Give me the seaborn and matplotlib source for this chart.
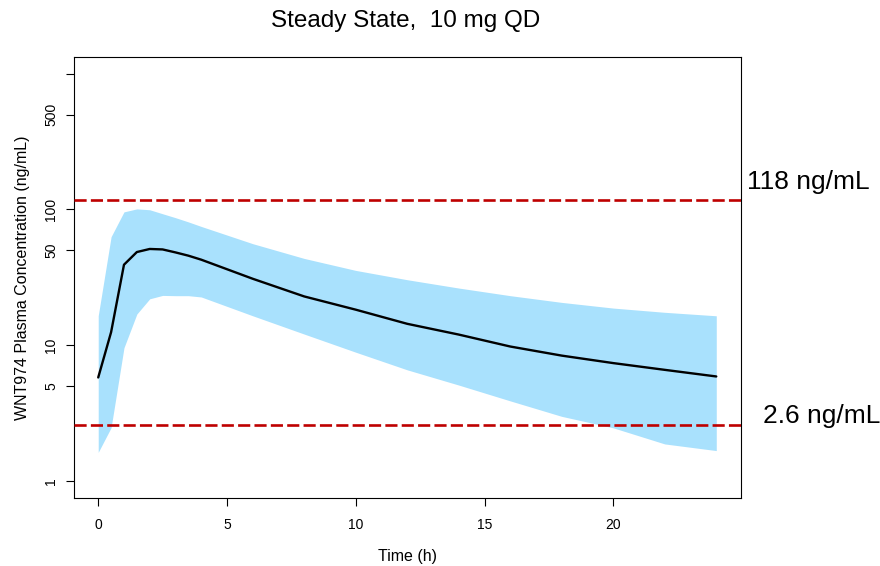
import matplotlib
matplotlib.use("Agg")
import matplotlib.pyplot as plt
import seaborn as sns
import pandas as pd

# ---- data ----
time_h = [0, 0.5, 1, 1.5, 2, 2.5, 3, 3.5, 4, 6, 8, 10, 12, 14, 16, 18, 20, 22, 24]
median_conc = [5.8, 12.5, 39.2, 48.6, 51.2, 50.8, 48.3, 45.7, 42.7, 30.9, 22.9, 18.3,
               14.4, 12.0, 9.8, 8.4, 7.4, 6.6, 5.9]
upper_conc = [16.5, 63, 96, 101, 99.5, 93, 87, 81, 75, 56, 43.6, 35.6, 30.4, 26.4,
              23.2, 20.7, 18.8, 17.5, 16.5]
lower_conc = [1.63, 2.48, 9.6, 17.0, 22.0, 23.3, 23.2, 23.2, 22.7, 16.5, 12.1, 8.9,
              6.6, 5.1, 3.9, 3.0, 2.47, 1.88, 1.68]
ref_levels = [118, 2.6]
ref_labels = ["118 ng/mL", "2.6 ng/mL"]
x_ticks = [0, 5, 10, 15, 20]
y_ticks = [1, 5, 10, 50, 100, 500, 1000]
y_tick_labels = ["1", "5", "10", "50", "100", "500", ""]

df = pd.DataFrame({"time": time_h, "median": median_conc,
                   "lower": lower_conc, "upper": upper_conc})

sns.set_theme(style="ticks")
plt.rcParams["font.family"] = ["Liberation Sans", "DejaVu Sans"]

fig = plt.figure(figsize=(8.8, 5.66), dpi=100)
ax = fig.add_axes([73.5 / 880, 1 - 497.5 / 566, (741 - 73.5) / 880, (497.5 - 57.3) / 566])

ax.fill_between(df["time"], df["lower"], df["upper"], color="#A9E1FD", linewidth=0, zorder=1)
sns.lineplot(data=df, x="time", y="median", ax=ax, color="black", linewidth=1.7, zorder=3)

for lvl in ref_levels:
    ax.axhline(lvl, color="#BE0000", linewidth=1.9, dashes=(4.6, 1.6), zorder=4)

ax.set_yscale("log")
ax.set_xlim(-0.96, 24.96)
ax.set_ylim(10 ** -0.12, 10 ** 3.12)

ax.set_xticks(x_ticks)
ax.set_xticklabels([str(t) for t in x_ticks])
ax.set_yticks(y_ticks)
ax.set_yticklabels(y_tick_labels)
ax.yaxis.set_minor_locator(matplotlib.ticker.NullLocator())

for s in ax.spines.values():
    s.set_visible(True)
    s.set_color("black")
    s.set_linewidth(0.8)

ax.tick_params(axis="both", direction="out", length=6, width=0.8, color="black",
               labelsize=10, labelcolor="black")
ax.tick_params(axis="x", pad=9)
ax.tick_params(axis="y", pad=5)
for lab in ax.get_yticklabels():
    lab.set_rotation(90)
    lab.set_va("center")

ax.set_xlabel("Time (h)", fontsize=11.5, color="black")
ax.set_ylabel("WNT974 Plasma Concentration (ng/mL)", fontsize=11.5, color="black")
ax.xaxis.set_label_coords(0.5, (497.5 - 556) / 440.2)
ax.yaxis.set_label_coords((23 - 73.5) / 667.5, 0.5)
ax.xaxis.label.set_va("center")
ax.yaxis.label.set_va("center")

fig.text(406 / 880, 1 - 27.3 / 566, "Steady State,  10 mg QD", ha="center",
         va="baseline", fontsize=17.5, color="black")

offsets = [(6, 11), (22, 2)]
for lvl, lab, off in zip(ref_levels, ref_labels, offsets):
    ax.annotate(lab, xy=(1, lvl), xycoords=("axes fraction", "data"),
                xytext=off, textcoords="offset pixels", ha="left", va="baseline",
                fontsize=19, color="black", annotation_clip=False)

fig.savefig("out.png", dpi=100)
